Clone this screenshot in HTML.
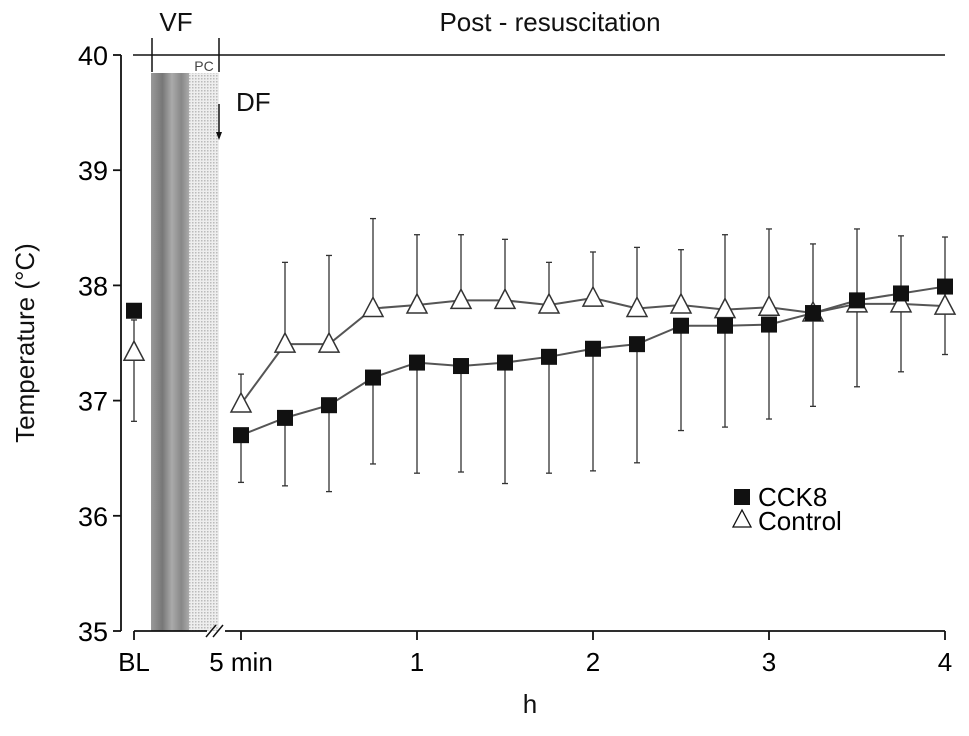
<!DOCTYPE html>
<html><head><meta charset="utf-8"><style>
body{margin:0;background:#fff}
svg{font-family:"Liberation Sans",Arial,sans-serif}
</style></head><body>
<svg id="chart" width="969" height="731" viewBox="0 0 969 731">
<defs>
<pattern id="dots" width="3" height="3" patternUnits="userSpaceOnUse"><rect width="3" height="3" fill="#eee"/><rect width="1.5" height="1.5" fill="#bbb"/></pattern>
<linearGradient id="vfg" x1="0" x2="1"><stop offset="0" stop-color="#999"/><stop offset="0.3" stop-color="#777"/><stop offset="0.55" stop-color="#aaa"/><stop offset="0.8" stop-color="#888"/><stop offset="1" stop-color="#aaa"/></linearGradient>
</defs>
<g id="static" fill="#111">
<rect x="151" y="73" width="38" height="558" fill="url(#vfg)"/>
<rect x="189" y="73" width="30" height="558" fill="url(#dots)"/>
<line x1="133" y1="55" x2="945" y2="55" stroke="#111" stroke-width="1.5"/>
<line x1="152" y1="38" x2="152" y2="72" stroke="#111" stroke-width="1.5"/>
<line x1="219" y1="38" x2="219" y2="72" stroke="#111" stroke-width="1.5"/>
<text x="176" y="31" font-size="26" text-anchor="middle">VF</text>
<text x="550" y="31" font-size="26" text-anchor="middle">Post - resuscitation</text>
<text x="204" y="71" font-size="14" text-anchor="middle" fill="#444">PC</text>
<text x="236" y="111" font-size="26">DF</text>
<line x1="219" y1="104" x2="219" y2="134" stroke="#111" stroke-width="1.5"/>
<polygon points="216,132 222,132 219,140" fill="#111"/>
<text transform="translate(34,343) rotate(-90)" font-size="26" text-anchor="middle">Temperature (°C)</text>
<text x="530" y="713" font-size="26" text-anchor="middle">h</text>
</g>
<g id="axes"></g>
<g id="marks"></g>
<g>
<rect x="734" y="489" width="16" height="16" fill="#111"/>
<text x="758" y="506" font-size="26">CCK8</text>
<polygon points="742,510 733,527 751,527" fill="#fff" stroke="#111" stroke-width="1.3"/>
<text x="758" y="530" font-size="26">Control</text>
</g>
</svg>
<script>
const hours=[0,0.25,0.5,0.75,1,1.25,1.5,1.75,2,2.25,2.5,2.75,3,3.25,3.5,3.75,4];
const cck8=[36.7,36.85,36.96,37.2,37.33,37.3,37.33,37.38,37.45,37.49,37.65,37.65,37.66,37.76,37.87,37.93,37.99];
const cck8Low=[36.29,36.26,36.21,36.45,36.37,36.38,36.28,36.37,36.39,36.46,36.74,36.77,36.84,36.95,37.12,37.25,37.4];
const control=[36.97,37.49,37.49,37.8,37.83,37.87,37.87,37.83,37.89,37.8,37.83,37.79,37.81,37.76,37.84,37.84,37.82];
const controlHigh=[37.23,38.2,38.26,38.58,38.44,38.44,38.4,38.2,38.29,38.33,38.31,38.44,38.49,38.36,38.49,38.43,38.42];
const baseline={cck8:37.78,control:37.42,controlLow:36.82};
const yTicks=[35,36,37,38,39,40];
const xTicks=[0,1,2,3,4];
const xTickLabels=["5 min","1","2","3","4"];
const NS='http://www.w3.org/2000/svg';
function X(h){return 241+h*(945-241)/4;}
function Y(v){return 55+(40-v)*115.2;}
const BLX=134;
function mk(tag,attrs,parent){const e=document.createElementNS(NS,tag);for(const k in attrs)e.setAttribute(k,attrs[k]);parent.appendChild(e);return e;}
const axes=document.getElementById('axes'),marks=document.getElementById('marks');
let yl=mk('line',{x1:121,y1:Y(40),x2:121,y2:Y(35),stroke:'#111','stroke-width':1.8},axes);


yTicks.forEach(t=>{mk('line',{x1:113,y1:Y(t),x2:121,y2:Y(t),stroke:'#111','stroke-width':1.8},axes);
 const tx=mk('text',{x:108,y:Y(t)+10,'font-size':27,'text-anchor':'end'},axes);tx.textContent=t;
 
 });
mk('line',{x1:BLX,y1:631,x2:207,y2:631,stroke:'#111','stroke-width':1.8},axes);
mk('line',{x1:225,y1:631,x2:945,y2:631,stroke:'#111','stroke-width':1.8},axes);
mk('line',{x1:206,y1:637,x2:216,y2:625,stroke:'#111','stroke-width':1.5},axes);
mk('line',{x1:213,y1:637,x2:223,y2:625,stroke:'#111','stroke-width':1.5},axes);
mk('line',{x1:BLX,y1:631,x2:BLX,y2:640,stroke:'#111','stroke-width':1.8},axes);
let bl=mk('text',{x:BLX,y:671,'font-size':26,'text-anchor':'middle'},axes);bl.textContent='BL';


xTicks.forEach((t,i)=>{mk('line',{x1:X(t),y1:631,x2:X(t),y2:640,stroke:'#111','stroke-width':1.8},axes);
 const tx=mk('text',{x:X(t),y:671,'font-size':26,'text-anchor':'middle'},axes);tx.textContent=xTickLabels[i];
 
 });
function ebar(x,v1,v2){mk('line',{x1:x,y1:Y(v1),x2:x,y2:Y(v2),stroke:'#333','stroke-width':1.3},marks);
 mk('line',{x1:x-3,y1:Y(v2),x2:x+3,y2:Y(v2),stroke:'#333','stroke-width':1.3},marks);}
hours.forEach((h,i)=>{ebar(X(h),cck8[i],cck8Low[i]);ebar(X(h),control[i],controlHigh[i]);});
ebar(BLX,baseline.control,baseline.controlLow);
ebar(BLX,baseline.control,37.7);
function line(arr,name){const p=mk('polyline',{points:hours.map((h,i)=>X(h)+','+Y(arr[i])).join(' '),fill:'none',stroke:'#555','stroke-width':2},marks);
 
 }
line(control,'control-line');line(cck8,'cck8-line');
function tri(x,v){const y=Y(v);const t=mk('polygon',{points:`${x},${y-11} ${x-10},${y+8} ${x+10},${y+8}`,fill:'#fff',stroke:'#333','stroke-width':1.5},marks);
 
 }
function sq(x,v){const s=mk('rect',{x:x-8,y:Y(v)-8,width:16,height:16,fill:'#111'},marks);
 
 }
hours.forEach((h,i)=>tri(X(h),control[i]));
hours.forEach((h,i)=>sq(X(h),cck8[i]));
sq(BLX,baseline.cck8);tri(BLX,baseline.control);
</script>
</body></html>
